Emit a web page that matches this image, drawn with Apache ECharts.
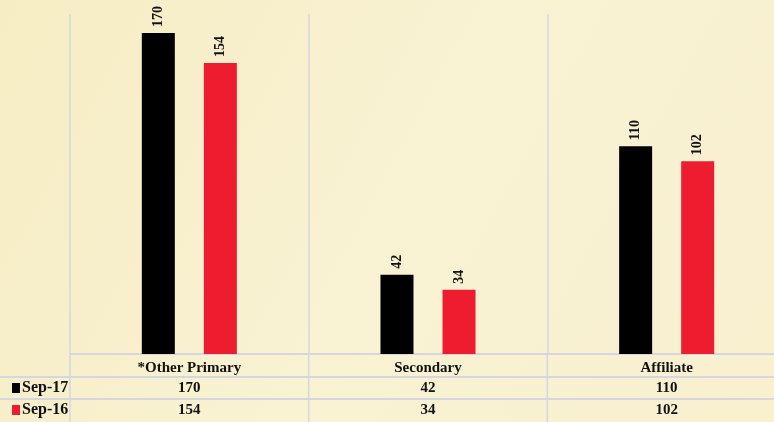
<!DOCTYPE html>
<html><head><meta charset="utf-8">
<script src="https://cdn.jsdelivr.net/npm/echarts@6/dist/echarts.min.js"></script>
<style>html,body{margin:0;padding:0;background:#f7efc9;overflow:hidden;width:774px;height:422px;}#c{width:786px;height:422px;}</style>
</head><body><div id="c"></div>
<script>
const categories = ['*Other Primary', 'Secondary', 'Affiliate'];
const seriesNames = ['Sep-17', 'Sep-16'];
const sep17 = [170, 42, 110];
const sep16 = [154, 34, 102];
const colors = ['#000000', '#ed1c2e'];
const gridColor = '#d5d6e0';
const font = '"Liberation Serif", "DejaVu Serif", serif';

const chart = echarts.init(document.getElementById('c'));
const option = {
  backgroundColor: {
    type: 'linear', x: 0, y: 0, x2: 1, y2: 1,
    colorStops: [{offset: 0, color: '#f6edc4'}, {offset: 0.5, color: '#f9f2d3'}, {offset: 1, color: '#f8f0cf'}]
  },
  animation: false,
  grid: {left: 70, right: 0, top: 14, bottom: 68},
  xAxis: {
    type: 'category', data: categories,
    axisLine: {show: true, lineStyle: {color: gridColor, width: 2}},
    axisTick: {show: false},
    axisLabel: {margin: 7, fontFamily: font, fontWeight: 'bold', fontSize: 15, color: '#111'},
    splitLine: {show: true, lineStyle: {color: gridColor, width: 1.5}}
  },
  yAxis: {type: 'value', min: 0, max: 180, show: false, splitLine: {show: false}},
  series: [sep17, sep16].map((d, i) => ({
    name: seriesNames[i], type: 'bar', data: d, barWidth: 33, barGap: '88%',
    itemStyle: {color: colors[i]},
    label: {show: true, position: 'top', rotate: 90, distance: 6, align: 'left', verticalAlign: 'middle',
      fontFamily: font, fontWeight: 'bold', fontSize: 14, color: '#111'}
  }))
};
chart.setOption(option);

// data table built from arrays
const rowsY = [388, 410];
const lines = [377, 399];
const els = [];
lines.forEach(y => els.push({type: 'line', shape: {x1: 0, y1: y, x2: 786, y2: y}, style: {stroke: gridColor, lineWidth: 2}}));
const boundaries = [70];
categories.forEach((c, i) => {
  const cx = chart.convertToPixel({xAxisIndex: 0}, c);
  boundaries.push(cx + (cx - boundaries[boundaries.length - 1]));
});
boundaries.forEach(x => els.push({type: 'line', shape: {x1: x, y1: 354, x2: x, y2: 422}, style: {stroke: gridColor, lineWidth: 1.5}}));
[sep17, sep16].forEach((d, r) => {
  els.push({type: 'rect', shape: {x: 12, y: rowsY[r] - 5, width: 8, height: 10}, style: {fill: colors[r]}});
  els.push({type: 'text', x: 22, y: rowsY[r], style: {text: seriesNames[r], fontFamily: font, fontWeight: 'bold', fontSize: 16, fill: '#111', verticalAlign: 'middle', align: 'left'}});
  d.forEach((v, i) => {
    const cx = chart.convertToPixel({xAxisIndex: 0}, categories[i]);
    els.push({type: 'text', x: cx, y: rowsY[r], style: {text: String(v), fontFamily: font, fontWeight: 'bold', fontSize: 15, fill: '#111', align: 'center', verticalAlign: 'middle'}});
  });
});
chart.setOption({graphic: {elements: els}});
</script></body></html>
